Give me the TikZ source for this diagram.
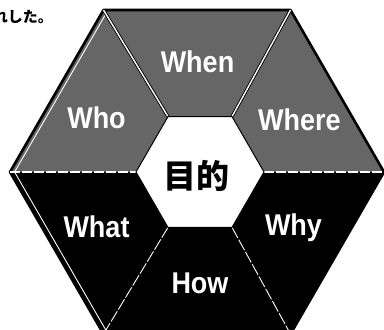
\documentclass[tikz,border=0pt]{standalone}
\usepackage{fontspec}
\setmainfont{Liberation Sans}
\newfontfamily\labfont[FakeStretch=0.9]{Liberation Sans}
\newfontfamily\cjkfont{Noto Sans CJK JP}
\definecolor{stip}{gray}{0.40}
\tikzset{
  lab/.style={text=white, font=\labfont\bfseries\fontsize{30}{30}\selectfont, anchor=base, inner sep=0pt},
  updiv/.style={line width=1.4pt, white},
  updivbg/.style={line width=3.2pt, black},
  middiv/.style={line width=1.2pt, white, dash pattern=on 10pt off 2pt},
  lowdiv/.style={line width=0.9pt, white, dash pattern=on 12pt off 2pt},
}
\begin{document}
\begin{tikzpicture}[x=1pt,y=-1pt]
\useasboundingbox (0,0) rectangle (384,330);
\fill[white] (0,0) rectangle (384,330);
% outer vertices
\coordinate (O0) at (384,172);
\coordinate (O1) at (290.5,10);
\coordinate (O2) at (103.5,10);
\coordinate (O3) at (10,172);
\coordinate (O4) at (103.5,334);
\coordinate (O5) at (290.5,334);
% inner vertices
\coordinate (I0) at (264,172);
\coordinate (I1) at (232,116.6);
\coordinate (I2) at (168,116.6);
\coordinate (I3) at (136,172);
\coordinate (I4) at (168,227.4);
\coordinate (I5) at (232,227.4);
% inset line points
\coordinate (L1) at (105.8,14);
\coordinate (L2) at (14.6,172);
\coordinate (L3) at (105.8,330);
% fills
\fill[stip] (O0) -- (O1) -- (O2) -- (O3) -- (I3) -- (I2) -- (I1) -- (I0) -- cycle;
\fill[black] (O3) -- (O4) -- (O5) -- (O0) -- (I0) -- (I5) -- (I4) -- (I3) -- cycle;
% outer border
\draw[black, line width=2.6pt, line join=round] (O0) -- (O1) -- (O2) -- (O3) -- (O4) -- (O5) -- cycle;
% inset white line on left
\draw[white, line width=0.9pt] (L1) -- (L2) -- (L3);
% dividers
\draw[updivbg] (I2) -- (O2);
\draw[updivbg] (I1) -- (O1);
\draw[updiv] (I2) -- (O2);
\draw[updiv] (I1) -- (O1);
\draw[middiv] (O3) -- (I3);
\draw[middiv] (I0) -- (O0);
\draw[lowdiv] (I4) -- (O4);
\draw[lowdiv] (I5) -- (O5);
% inner hexagon
\draw[draw=black, fill=white, line width=1pt] (I0) -- (I1) -- (I2) -- (I3) -- (I4) -- (I5) -- cycle;
% labels
\node[lab] (when) at (197.5,72) {When};
\node[lab] (where) at (299.5,130) {Where};
\node[lab] (who) at (96.5,128) {Who};
\node[lab] (what) at (96.5,237) {What};
\node[lab] (why) at (293.5,235) {Why};
\node[lab] (how) at (200,293) {How};
\node[text=black, font=\cjkfont\bfseries\fontsize{33}{33}\selectfont, inner sep=0pt] (goal) at (196.5,176) {目的};
\node[text=black, font=\cjkfont\bfseries\fontsize{15}{15}\selectfont, inner sep=0pt, anchor=east] (top) at (53,17) {れした。};
\end{tikzpicture}
\end{document}
